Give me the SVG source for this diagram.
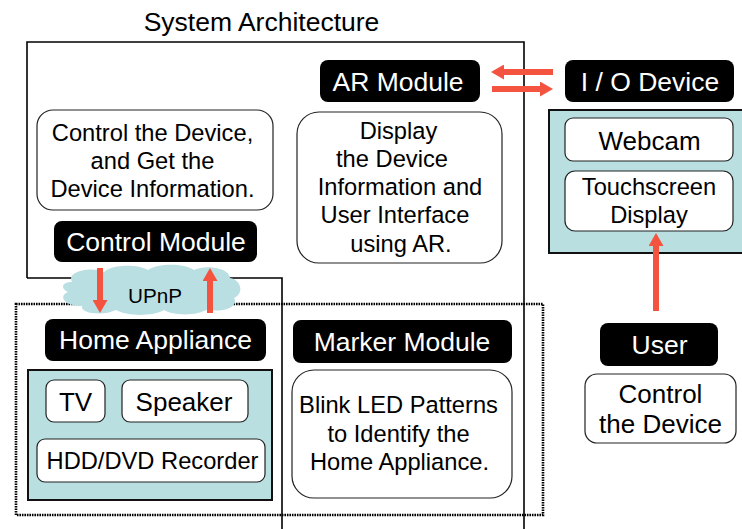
<svg xmlns="http://www.w3.org/2000/svg" width="742" height="529" viewBox="0 0 742 529">
  <style>
    text { font-family: "Liberation Sans", Arial, sans-serif; fill: #000; text-anchor: middle; }
    .title { font-size: 26.5px; }
    .label { font-size: 26.5px; fill: #fff; }
    .body { font-size: 23.7px; }
    .big { font-size: 26px; }
    .small { font-size: 20.7px; }
    .tag { fill: #000; }
    .card { fill: #fff; stroke: #222; stroke-width: 1.2; }
    .panel { fill: #b9dfe1; stroke: #111; stroke-width: 2; }
    .frame { fill: none; stroke: #000; stroke-width: 1.6; }
    .dotted { fill: none; stroke: #000; stroke-width: 2.6; stroke-dasharray: 1.6 0.9; }
    .arrow { fill: none; stroke: #f4533f; stroke-width: 6; marker-end: url(#head); }
  </style>
  <defs>
    <marker id="head" markerUnits="userSpaceOnUse" markerWidth="13" markerHeight="15" viewBox="0 0 13 15" refX="1" refY="7.5" orient="auto">
      <path d="M0,0 L13,7.5 L0,15 z" fill="#f4533f"/>
    </marker>
  </defs>

  <rect width="742" height="529" fill="#fff"/>

  <!-- title and outlines -->
  <text class="title" x="261.5" y="31">System Architecture</text>
  <path class="frame" d="M27,278 L27,42 L524,42 L524,529 M27,278 L282,278 L282,529"/>
  <rect class="dotted" x="16" y="304" width="527" height="211"/>

  <!-- AR module -->
  <g id="ar-module">
    <rect class="tag" x="320" y="60" width="160" height="42" rx="8"/>
    <text class="label" x="398" y="90.5">AR Module</text>
  </g>
  <g id="ar-display">
    <rect class="card" x="297" y="112" width="205" height="151" rx="22"/>
    <text class="body" x="398.5" y="139">Display</text>
    <text class="body" x="392" y="167">the Device</text>
    <text class="body" x="400" y="195">Information and</text>
    <text class="body" x="395" y="223">User Interface</text>
    <text class="body" x="401" y="252">using AR.</text>
  </g>

  <!-- control module -->
  <g id="control-desc">
    <rect class="card" x="37" y="110" width="236" height="100" rx="16"/>
    <text class="body" x="152.5" y="141">Control the Device,</text>
    <text class="body" x="152.5" y="168.5">and Get the</text>
    <text class="body" x="152.5" y="196.5">Device Information.</text>
  </g>
  <g id="control-module">
    <rect class="tag" x="54" y="221" width="203" height="41" rx="8"/>
    <text class="label" x="156" y="250.5">Control Module</text>
  </g>

  <!-- UPnP cloud -->
  <g id="upnp">
    <path d="M72,282 C66,272 90,266 104,272 C112,264 138,264 148,270 C158,263 184,263 194,270 C206,264 230,268 230,278 C242,280 244,294 234,298 C240,306 222,314 208,309 C198,316 174,316 164,310 C152,317 126,316 116,310 C104,316 80,314 82,306 C64,306 58,296 68,292 C60,288 62,282 72,282 z" fill="#b9dfe3"/>
    <text class="small" x="155" y="303">UPnP</text>
  </g>

  <!-- home appliance -->
  <g id="home-appliance">
    <rect class="tag" x="45" y="319" width="221" height="42" rx="8"/>
    <text class="label" x="155.5" y="349">Home Appliance</text>
  </g>
  <g id="appliances">
    <rect class="panel" x="28" y="370" width="244" height="130"/>
    <g id="tv">
      <rect class="card" x="46" y="380" width="59" height="42" rx="8"/>
      <text class="big" x="75.5" y="411">TV</text>
    </g>
    <g id="speaker">
      <rect class="card" x="122" y="380" width="126" height="42" rx="8"/>
      <text class="big" x="184" y="411">Speaker</text>
    </g>
    <g id="recorder">
      <rect class="card" x="37" y="439" width="228" height="43" rx="8"/>
      <text class="body" x="152.5" y="468.5">HDD/DVD Recorder</text>
    </g>
  </g>

  <!-- marker module -->
  <g id="marker-module">
    <rect class="tag" x="293" y="320" width="219" height="43" rx="8"/>
    <text class="label" x="402" y="350.5">Marker Module</text>
  </g>
  <g id="marker-desc">
    <rect class="card" x="292" y="370" width="220" height="128" rx="22"/>
    <text class="body" x="398.5" y="413">Blink LED Patterns</text>
    <text class="body" x="398.5" y="442">to Identify the</text>
    <text class="body" x="399.5" y="470">Home Appliance.</text>
  </g>

  <!-- I/O device -->
  <g id="io-device">
    <rect class="tag" x="565" y="60" width="169" height="42" rx="8"/>
    <text class="label" x="650" y="90.5">I / O Device</text>
  </g>
  <g id="io-parts">
    <rect class="panel" x="549" y="110" width="200" height="143"/>
    <g id="webcam">
      <rect class="card" x="565" y="118" width="168" height="43" rx="8"/>
      <text class="big" x="649.5" y="150">Webcam</text>
    </g>
    <g id="touchscreen">
      <rect class="card" x="565" y="171" width="168" height="60" rx="10"/>
      <text class="body" x="649" y="195">Touchscreen</text>
      <text class="body" x="649" y="223">Display</text>
    </g>
  </g>

  <!-- user -->
  <g id="user">
    <rect class="tag" x="600" y="323" width="118" height="43" rx="8"/>
    <text class="label" x="659.5" y="354">User</text>
  </g>
  <g id="user-desc">
    <rect class="card" x="585" y="374" width="151" height="69" rx="12"/>
    <text class="big" x="660.5" y="403">Control</text>
    <text class="big" x="660.5" y="433">the Device</text>
  </g>

  <!-- connectors -->
  <g id="connectors">
    <line class="arrow" x1="553" y1="72" x2="503" y2="72"/>
    <line class="arrow" x1="492" y1="89" x2="541" y2="89"/>
    <line class="arrow" x1="100" y1="268" x2="100" y2="301"/>
    <line class="arrow" x1="210" y1="313" x2="210" y2="280"/>
    <line class="arrow" x1="656" y1="311" x2="656" y2="245"/>
  </g>
</svg>
